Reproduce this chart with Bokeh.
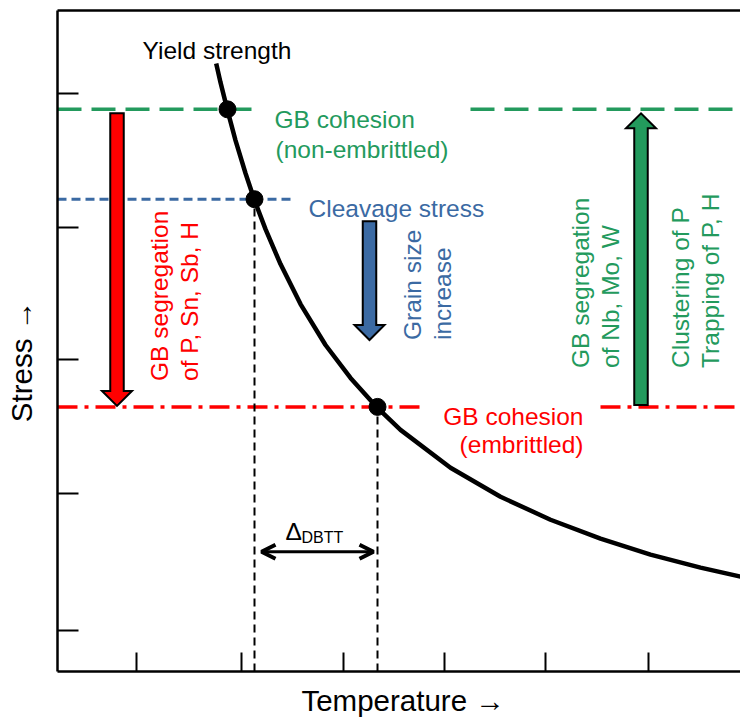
import numpy as np
from bokeh.plotting import figure
from bokeh.models import Range1d, FixedTicker, LinearAxis, Arrow, OpenHead, CustomJSTickFormatter
from bokeh.core.properties import value
from bokeh.embed import file_html
from bokeh.resources import INLINE

# ---------------- data (arbitrary units: temperature, stress) ----------------
curve_T = [158.7, 163, 170, 178, 188, 197, 208, 223, 243, 268, 293, 320, 343, 393, 443, 493, 543, 593, 643, 683]
curve_S = [609, 590, 562, 532, 499, 472, 443, 408, 368, 327, 294, 264, 242, 204, 175, 152, 133, 117, 104, 95]

x_ticks = [79, 184, 286, 387, 488, 591]
y_ticks = [41, 178, 312, 445, 579]

stress_cohesion = 563      # GB cohesion (non-embrittled)
stress_cleavage = 473      # cleavage stress
stress_embrittled = 265    # GB cohesion (embrittled)

dot_T = [170, 197, 320]
dot_S = [stress_cohesion, stress_cleavage, stress_embrittled]

# line pieces (temperature extents) for each level
green_T0, green_T1 = [0, 413], [196, 683]
blue_T0, blue_T1 = [0], [235]
red_T0, red_T1 = [0, 543], [363, 683]

# block arrows: (temperature, tail stress, tip stress)
arrow_red = (59.5, 559, 266)
arrow_blue = (312, 451, 332)
arrow_green = (583.5, 267, 559)

dbtt_T = [204, 316]
dbtt_S = 120

GREEN = "#239a5d"
BLUE = "#3b6aa3"
RED = "#ff0000"
FONT = "Liberation Sans"
FS = "24.5px"
AXFS = "29.5px"
NB = "\u00a0"

p = figure(width=740, height=719, x_range=Range1d(0, 683), y_range=Range1d(0, 662),
           output_backend="svg", toolbar_location=None,
           min_border_left=57, min_border_right=0, min_border_top=10, min_border_bottom=47,
           x_axis_label=NB + "Temperature →", y_axis_label="Stress →" + NB * 5)
p.grid.visible = False
p.outline_line_color = None
p.background_fill_color = "white"
p.border_fill_color = "white"

blank = CustomJSTickFormatter(code="return ''")
for ax, ticks, tin in ((p.xaxis[0], x_ticks, 19), (p.yaxis[0], y_ticks, 21)):
    ax.ticker = FixedTicker(ticks=ticks)
    ax.formatter = blank
    ax.major_label_text_font_size = "0px"
    ax.major_label_standoff = 0
    ax.major_tick_in = tin
    ax.major_tick_out = 0
    ax.minor_tick_in = 0
    ax.minor_tick_out = 0
    ax.axis_line_width = 2.5
    ax.major_tick_line_width = 2
    ax.axis_label_text_font = FONT
    ax.axis_label_text_font_size = AXFS
    ax.axis_label_text_font_style = "normal"
    ax.axis_label_text_color = "black"
p.xaxis[0].axis_label_standoff = 12
p.yaxis[0].axis_label_standoff = 20

top = LinearAxis(ticker=FixedTicker(ticks=[]), formatter=blank, axis_line_width=2.5,
                 major_tick_in=0, major_tick_out=0, minor_tick_in=0, minor_tick_out=0,
                 major_label_text_font_size="0px", major_label_standoff=0)
p.add_layout(top, "above")

# level lines
p.segment(x0=green_T0, x1=green_T1, y0=[stress_cohesion] * 2, y1=[stress_cohesion] * 2,
          line_color=GREEN, line_width=3.5, line_dash="24 10")
p.segment(x0=blue_T0, x1=blue_T1, y0=[stress_cleavage], y1=[stress_cleavage],
          line_color=BLUE, line_width=3, line_dash="9 5")
p.segment(x0=red_T0, x1=red_T1, y0=[stress_embrittled] * 2, y1=[stress_embrittled] * 2,
          line_color=RED, line_width=3.5, line_dash="20 7 4 7")

# vertical dashed markers
p.segment(x0=dot_T[1:], x1=dot_T[1:], y0=[0, 0], y1=dot_S[1:],
          line_color="black", line_width=2, line_dash="8 5")

# yield strength curve and intersections
p.line(curve_T, curve_S, line_color="black", line_width=4.5)
p.scatter(dot_T, dot_S, size=17, color="black")

# block arrows
def block_arrow(spec, shaft=13.5, head_w=30, head_l=15):
    xc, y0, y1 = spec
    d = 1 if y1 > y0 else -1
    yb = y1 - d * head_l
    xs = [xc - shaft / 2, xc - shaft / 2, xc - head_w / 2, xc, xc + head_w / 2, xc + shaft / 2, xc + shaft / 2]
    ys = [y0, yb, yb, y1, yb, yb, y0]
    return xs, ys

for spec, col in ((arrow_red, RED), (arrow_blue, BLUE), (arrow_green, GREEN)):
    xs, ys = block_arrow(spec)
    p.patch(xs, ys, fill_color=col, line_color="black", line_width=2, line_join="miter")

# DBTT double arrow
p.add_layout(Arrow(x_start=dbtt_T[0], x_end=dbtt_T[1], y_start=dbtt_S, y_end=dbtt_S,
                   line_width=3,
                   start=OpenHead(size=14, line_width=4),
                   end=OpenHead(size=14, line_width=4)))

def txt(x, y, s, color, align="left", angle=0.0, size=FS):
    p.text(x=x, y=y, text=s, text_color=color, text_font=value(FONT),
           text_font_size=value(size), text_align=align, text_baseline="alphabetic",
           angle=angle)

txt([85], [622], ["Yield strength"], "black")
txt([217, 218], [553, 523], ["GB cohesion", "(non-embrittled)"], GREEN)
txt([251], [464], ["Cleavage stress"], BLUE)
txt([526, 526], [255, 227], ["GB cohesion", "(embrittled)"], RED, align="right")

rot = np.pi / 2
txt([102, 132], [291, 291], ["GB segregation", "of P, Sn, Sb, H"], RED, angle=rot)
txt([355, 385], [332, 332], ["Grain size", "increase"], BLUE, angle=rot)
txt([523, 553], [304, 304], ["GB segregation", "of Nb, Mo, W"], GREEN, angle=rot)
txt([622.5, 652.5], [304, 304], ["Clustering of P", "Trapping of P, H"], GREEN, angle=rot)

txt([228], [140], ["Δ"], "black")
txt([244], [134], ["DBTT"], "black", size="16px")

open("out.html", "w").write(file_html(p, INLINE))
